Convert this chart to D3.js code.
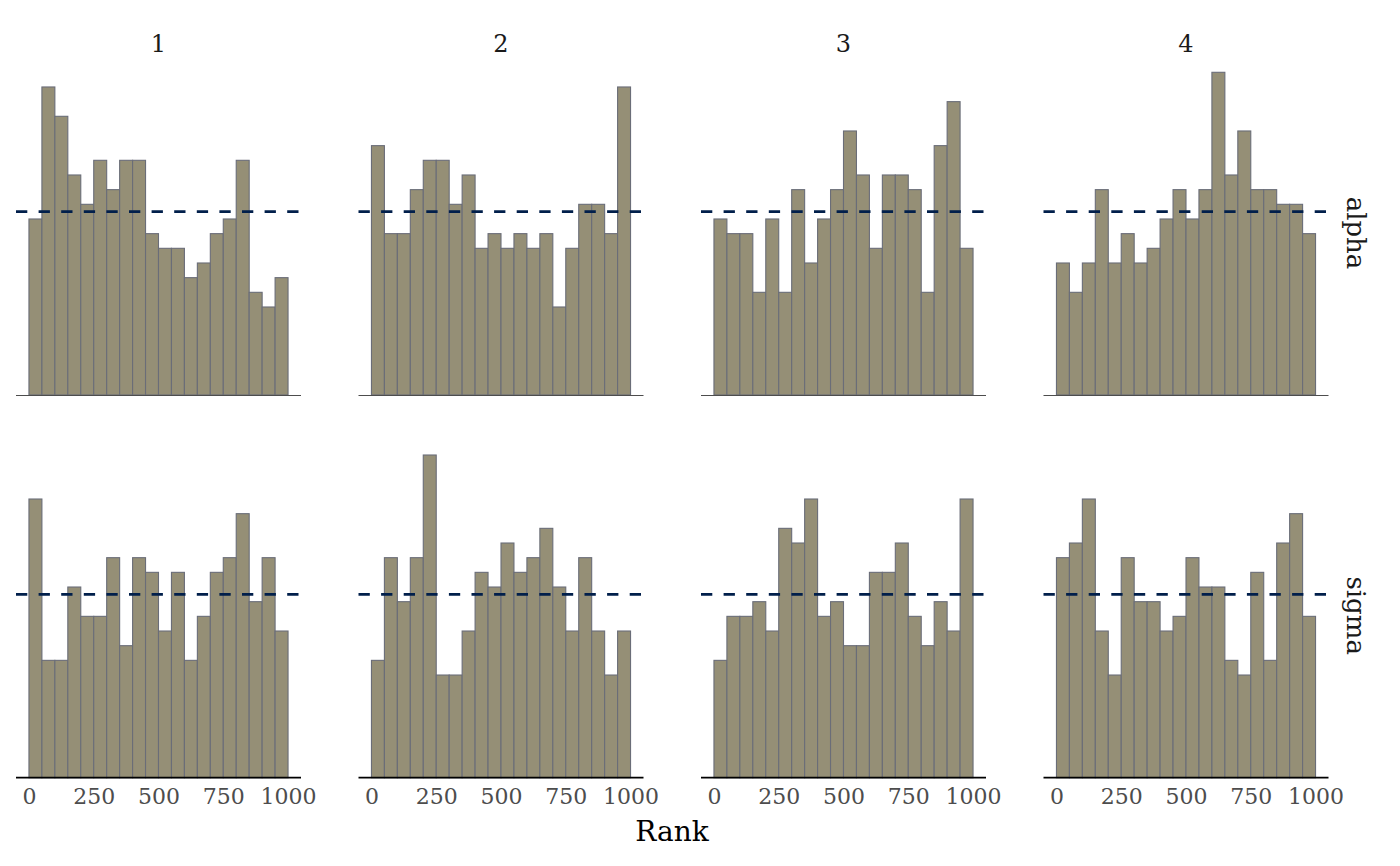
<!DOCTYPE html>
<html lang="en">

<head>
    <meta charset="UTF-8">
    <title>Rank histograms</title>
    <script src="https://d3js.org/d3.v7.min.js"></script>
    <style>
        body {
            margin: 0;
            background: #ffffff;
        }

        text {
            font-family: "DejaVu Serif", "Liberation Serif", serif;
        }

        .tick_label {
            font-size: 22px;
            fill: #4d4d4d;
        }

        .strip_label {
            font-size: 24px;
            fill: #1a1a1a;
        }
    </style>
</head>

<body>
    <svg width="1400" height="866"></svg>

    <script>
        // chains (columns) and parameters (rows)
        const chains = ["1", "2", "3", "4"];
        const params = ["alpha", "sigma"];

        // counts per rank bin (20 bins of 50 ranks)
        const alpha_1 = [12, 21, 19, 15, 13, 16, 14, 16, 16, 11, 10, 10, 8, 9, 11, 12, 16, 7, 6, 8];
        const alpha_2 = [17, 11, 11, 14, 16, 16, 13, 15, 10, 11, 10, 11, 10, 11, 6, 10, 13, 13, 11, 21];
        const alpha_3 = [12, 11, 11, 7, 12, 7, 14, 9, 12, 14, 18, 15, 10, 15, 15, 14, 7, 17, 20, 10];
        const alpha_4 = [9, 7, 9, 14, 9, 11, 9, 10, 12, 14, 12, 14, 22, 15, 18, 14, 14, 13, 13, 11];
        const sigma_1 = [19, 8, 8, 13, 11, 11, 15, 9, 15, 14, 10, 14, 8, 11, 14, 15, 18, 12, 15, 10];
        const sigma_2 = [8, 15, 12, 15, 22, 7, 7, 10, 14, 13, 16, 14, 15, 17, 13, 10, 15, 10, 7, 10];
        const sigma_3 = [8, 11, 11, 12, 10, 17, 16, 19, 11, 12, 9, 9, 14, 14, 16, 11, 9, 12, 10, 19];
        const sigma_4 = [15, 16, 19, 10, 7, 15, 12, 12, 10, 11, 15, 13, 13, 8, 7, 14, 8, 16, 18, 11];

        const counts = {
            alpha: [alpha_1, alpha_2, alpha_3, alpha_4],
            sigma: [sigma_1, sigma_2, sigma_3, sigma_4]
        };

        const rankMax = 1000;
        const binWidth = 50;
        const expected = 12.5;   // 250 draws per chain / 20 bins
        const xTicks = [0, 250, 500, 750, 1000];
        const xTitle = "Rank";

        // layout
        const panelLeft = [16, 358.5, 701, 1043.5];
        const panelW = 285;
        const rowBottom = [395, 777.7];
        const rowH = 324;

        const svg = d3.select("svg");

        const x = d3.scaleLinear()
            .domain([-0.05 * rankMax, 1.05 * rankMax])
            .range([0, panelW]);

        const y = d3.scaleLinear()
            .domain([0, 22])
            .range([0, -322.7]);

        params.forEach(function (p, r) {
            chains.forEach(function (c, ci) {
                const g = svg.append("g")
                    .attr("transform", `translate(${panelLeft[ci]},${rowBottom[r]})`);

                const bins = counts[p][ci].map((v, i) => ({ x0: i * binWidth, x1: (i + 1) * binWidth, n: v }));

                g.selectAll("rect")
                    .data(bins)
                    .enter()
                    .append("rect")
                    .attr("x", d => x(d.x0))
                    .attr("width", d => x(d.x1) - x(d.x0))
                    .attr("y", d => y(d.n))
                    .attr("height", d => -y(d.n))
                    .attr("fill", "#958f76")
                    .attr("stroke", "#6a6d78")
                    .attr("stroke-width", 1.1);

                // expected count line
                g.append("line")
                    .attr("x1", 0)
                    .attr("x2", panelW)
                    .attr("y1", y(expected))
                    .attr("y2", y(expected))
                    .attr("stroke", "#011f4b")
                    .attr("stroke-width", 2.6)
                    .attr("stroke-dasharray", "11.3 11.3");

                if (r === params.length - 1) {
                    const axis = d3.axisBottom(x)
                        .tickValues(xTicks)
                        .tickFormat(d3.format("d"))
                        .tickSize(0)
                        .tickPadding(11);
                    const ax = g.append("g").call(axis);
                    ax.attr("font-family", null).attr("font-size", null);
                    ax.select(".domain")
                        .attr("d", `M0,0H${panelW}`)
                        .attr("stroke", "#000000")
                        .attr("stroke-width", 1.8);
                    ax.selectAll(".tick text")
                        .attr("class", "tick_label")
                        .attr("fill", null)
                        .attr("dy", "0.71em");
                } else {
                    g.append("line")
                        .attr("x1", 0)
                        .attr("x2", panelW)
                        .attr("y1", 0.5)
                        .attr("y2", 0.5)
                        .attr("stroke", "#4d4d4d")
                        .attr("stroke-width", 1.2);
                }

                // column strip
                if (r === 0) {
                    svg.append("text")
                        .attr("class", "strip_label")
                        .attr("x", panelLeft[ci] + panelW / 2)
                        .attr("y", 52)
                        .attr("text-anchor", "middle")
                        .text(c);
                }
            });

            // row strip
            const cy = rowBottom[r] - rowH / 2;
            svg.append("text")
                .attr("class", "strip_label")
                .attr("transform", `translate(1347,${cy}) rotate(90)`)
                .attr("text-anchor", "middle")
                .style("font-size", "26px")
                .text(p);
        });

        svg.append("text")
            .attr("x", 672)
            .attr("y", 841)
            .attr("text-anchor", "middle")
            .style("font-size", "28px")
            .style("fill", "#000000")
            .text(xTitle);
    </script>
</body>

</html>
